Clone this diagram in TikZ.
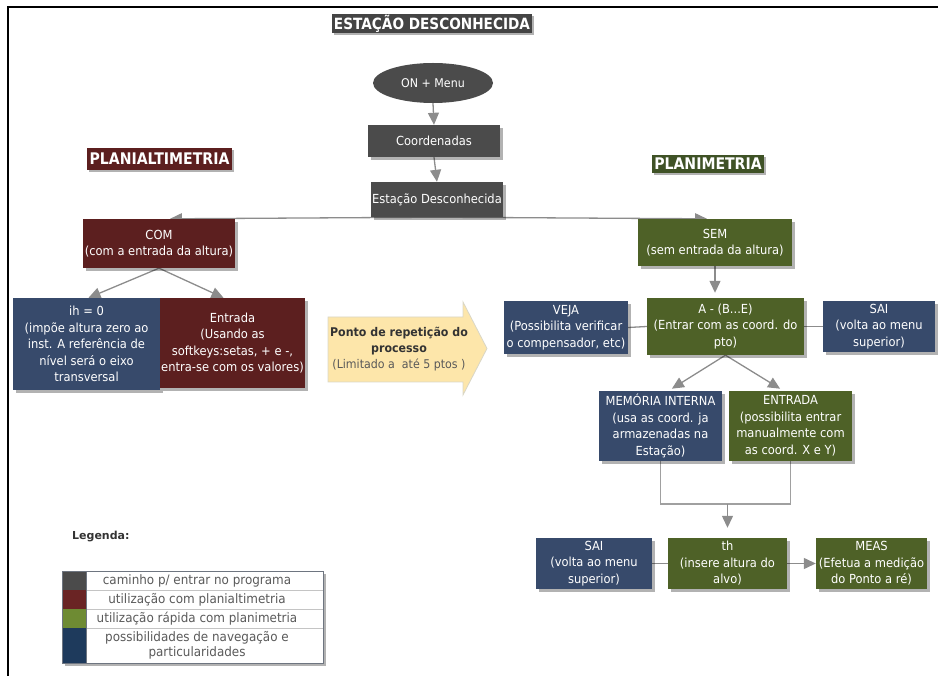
\documentclass[tikz,border=0pt]{standalone}
\usepackage{fontspec}
\setmainfont{DejaVu Sans}
\newfontfamily\hdfont[FakeStretch=0.88]{DejaVu Sans}
\newfontfamily\bodyfont[FakeStretch=0.92]{DejaVu Sans}
\usetikzlibrary{shapes.geometric,arrows.meta,shadows,backgrounds}

\definecolor{cgray}{HTML}{4B4B4B}
\definecolor{ctitle}{HTML}{444444}
\definecolor{cmaroon}{HTML}{5C1F1F}
\definecolor{cgreen}{HTML}{4E6127}
\definecolor{chgreen}{HTML}{3F5226}
\definecolor{cblue}{HTML}{374A6B}
\definecolor{clink}{HTML}{8C8C8C}
\definecolor{cjoin}{HTML}{A0A0A0}
\definecolor{cyellow}{HTML}{FDE6AA}
\definecolor{cyedge}{HTML}{D9D6C6}
\definecolor{legmaroon}{HTML}{6A2424}
\definecolor{leggreen}{HTML}{6E8B33}
\definecolor{legblue}{HTML}{1E3A5C}
\definecolor{legtext}{HTML}{5A5A5A}
\definecolor{legrule}{HTML}{C4C4C4}
\definecolor{legframe}{HTML}{6E7580}

\begin{document}
\begin{tikzpicture}[x=1pt,y=-1pt,
  every node/.style={inner sep=0pt},
  boxshadow/.style={drop shadow={shadow xshift=3pt,shadow yshift=-3pt,opacity=0.3,fill=black}},
  flowbox/.style={rectangle, boxshadow, text=white, align=center, inner xsep=1pt,
    font=\bodyfont\fontsize{12.5}{16.5}\selectfont},
  graybox/.style={flowbox, fill=cgray},
  redbox/.style={flowbox, fill=cmaroon},
  greenbox/.style={flowbox, fill=cgreen},
  bluebox/.style={flowbox, fill=cblue},
  heading/.style={rectangle, text=white, inner xsep=2pt,
    font=\hdfont\bfseries\fontsize{16}{16}\selectfont,
    drop shadow={shadow xshift=2pt,shadow yshift=-2pt,opacity=0.3,fill=black}},
  conn/.style={draw=clink, line width=1.3pt},
  conna/.style={conn, -{Triangle[width=11pt,length=12pt]}},
  legcell/.style={text=legtext, align=center, font=\bodyfont\fontsize{13}{15}\selectfont},
]
\useasboundingbox (0,0) rectangle (938,676);

% frame
\draw[line width=2.2pt] (938,6.8) -- (8,6.8) -- (8,676);

% headings
\node[heading, fill=ctitle, minimum width=198pt, minimum height=19pt,
      font=\hdfont\bfseries\fontsize{15.5}{15.5}\selectfont] (title) at (432,24) {ESTAÇÃO DESCONHECIDA};
\node[heading, fill=cmaroon, minimum width=145pt, minimum height=22pt] (hplanalt) at (159.5,159) {PLANIALTIMETRIA};
\node[heading, fill=chgreen, minimum width=110pt, minimum height=18pt] (hplan) at (708,164) {PLANIMETRIA};

% entry path
\node[ellipse, fill=cgray, text=white, minimum width=120pt, minimum height=40pt,
      font=\bodyfont\fontsize{12}{13}\selectfont] (on) at (433,83) {ON + Menu};
\node[graybox, minimum width=132pt, minimum height=32pt] (coord) at (434,141) {Coordenadas};
\node[graybox, minimum width=132pt, minimum height=35pt] (est) at (437,199.5) {Estação Desconhecida};

% planialtimetria branch
\node[redbox, minimum width=152pt, minimum height=49pt] (com) at (159,243.5) {COM\\(com a entrada da altura)};
\node[bluebox, minimum width=147pt, minimum height=92pt] (ih) at (86.5,344)
  {ih = 0\\(impõe altura zero ao\\inst. A referência de\\nível será o eixo\\transversal};
\node[redbox, minimum width=145pt, minimum height=90pt] (entr) at (232.5,343)
  {Entrada\\(Usando as\\softkeys:setas, + e -,\\entra-se com os valores)};

% repetition arrow
\filldraw[fill=cyellow, draw=cyedge, line width=0.8pt]
  (328,317) -- (463,317) -- (463,302) -- (487,348.5) -- (463,395) -- (463,382) -- (328,382) -- cycle;
\node[align=center, font=\bodyfont\fontsize{12}{16}\selectfont] (rep) at (399,349.5)
  {\textcolor{black!80}{\bfseries Ponto de repetição do}\\\textcolor{black!80}{\bfseries processo}\\\textcolor{black!65}{(Limitado a~ até 5 ptos )}};

% planimetria branch
\node[greenbox, minimum width=154pt, minimum height=47pt] (sem) at (715,242.5) {SEM\\(sem entrada da altura)};
\node[greenbox, minimum width=157pt, minimum height=57pt] (abe) at (725.5,326.5) {A - (B...E)\\(Entrar com as coord. do\\pto)};
\node[bluebox, minimum width=124pt, minimum height=53pt] (veja) at (566,327.5) {VEJA\\(Possibilita verificar\\o compensador, etc)};
\node[bluebox, minimum width=112pt, minimum height=51pt] (saia) at (879,326.5) {SAI\\(volta ao menu\\superior)};
\node[bluebox, minimum width=123pt, minimum height=70pt] (mem) at (660.5,426) {MEMÓRIA INTERNA\\(usa as coord. ja\\armazenadas na\\Estação)};
\node[greenbox, minimum width=123pt, minimum height=70pt] (man) at (790.5,426) {ENTRADA\\(possibilita entrar\\manualmente com\\as coord. X e Y)};
\node[bluebox, minimum width=116pt, minimum height=51pt] (saib) at (594,563.5) {SAI\\(volta ao menu\\superior)};
\node[greenbox, minimum width=119pt, minimum height=51pt] (th) at (727.5,563.5) {th\\(insere altura do\\alvo)};
\node[greenbox, minimum width=111pt, minimum height=51pt] (meas) at (871.5,563.5) {MEAS\\(Efetua a medição\\do Ponto a ré)};

\coordinate (jn) at (727.5,504);

% connectors, kept behind the boxes
\begin{scope}[on background layer]
  \draw[conna] (on.south) -- (coord.north);
  \draw[conna] (coord.south) -- (est.north);
  \draw[conna] (est.south) -- ([xshift=11pt]com.north);
  \draw[conna] (est.south) -- ([xshift=-8pt]sem.north);
  \draw[conna] (com.south) -- ([xshift=2pt]ih.north);
  \draw[conna] (com.south) -- ([xshift=-9pt]entr.north);
  \draw[conna, shorten >=5pt] (sem.south) -- (sem.south |- abe.north);
  \draw[conn] (veja.east) -- (abe.west);
  \draw[conn] (abe.east) -- (saia.west);
  \draw[conna, shorten >=4pt] (abe.south) -- ([xshift=8pt]mem.north);
  \draw[conna, shorten >=4pt] (abe.south) -- ([xshift=-7pt]man.north);
  \draw[draw=cjoin, line width=1.4pt] (mem.south) |- (jn) -| (man.south);
  \draw[conna, shorten >=10pt] (jn) -- (th.north);
  \draw[conn] (saib.east) -- (th.west);
  \draw[conna] (th.east) -- (meas.west);
\end{scope}

% legend
\node[anchor=west, text=black!80, font=\bfseries\fontsize{11}{13}\selectfont] (legtitle) at (72,537) {Legenda:};
\fill[white, boxshadow] (62,571) rectangle (323,663);
\fill[cgray] (62,571) rectangle (86,590);
\fill[legmaroon] (62,590) rectangle (86,609);
\fill[leggreen] (62,609) rectangle (86,628);
\fill[legblue] (62,628) rectangle (86,663);
\draw[legrule, line width=0.8pt] (86,590) -- (323,590) (86,609) -- (323,609) (86,628) -- (323,628);
\draw[legframe, line width=0.9pt] (62,571) rectangle (323,663);
\draw[legframe, line width=0.9pt] (86,571) -- (86,663);
\node[legcell] (lg1) at (197,580.5) {caminho p/ entrar no programa};
\node[legcell] (lg2) at (197,599.5) {utilização com planialtimetria};
\node[legcell] (lg3) at (197,618.5) {utilização rápida com planimetria};
\node[legcell] (lg4) at (197,645.5) {possibilidades de navegação e\\particularidades};
\end{tikzpicture}
\end{document}
